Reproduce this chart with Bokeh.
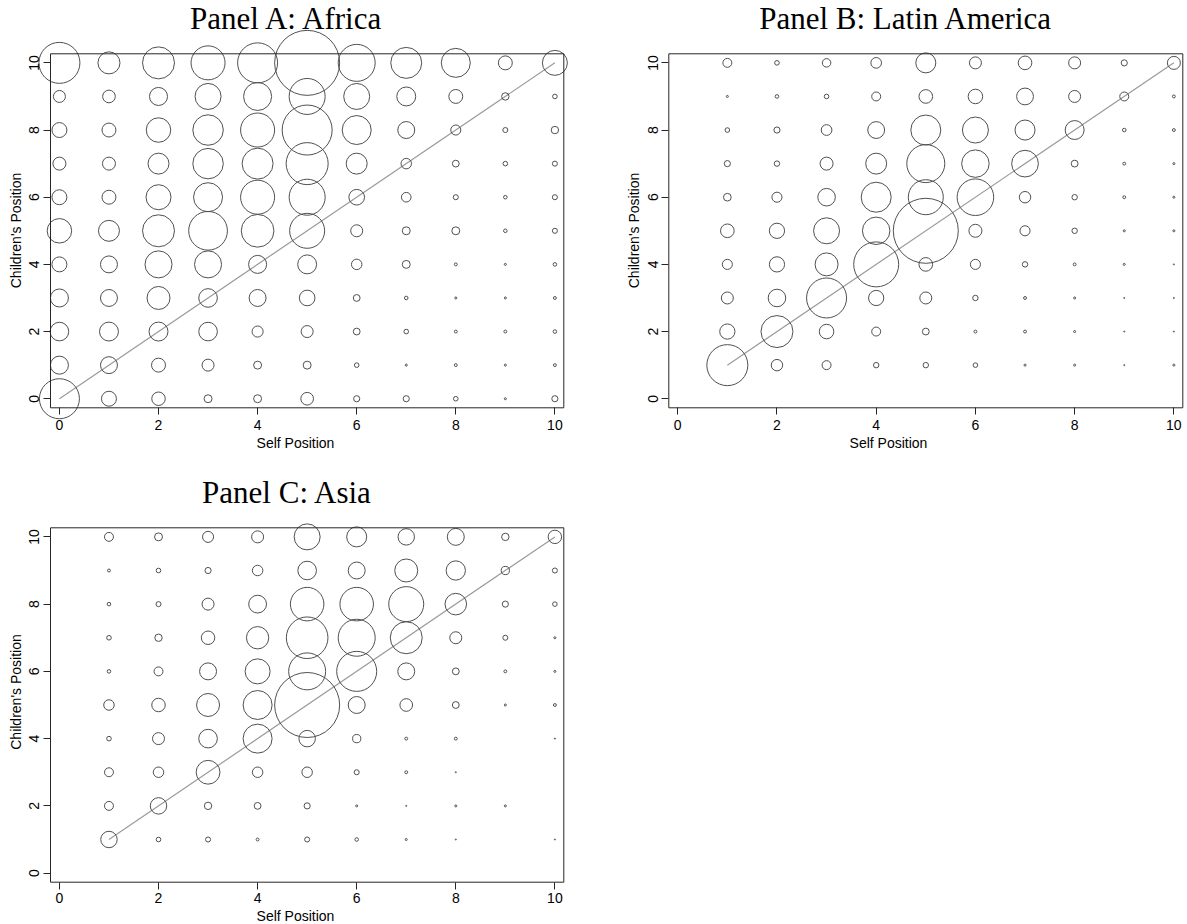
import math
from bokeh.plotting import figure
from bokeh.layouts import row, column
from bokeh.models import FixedTicker, BoxAnnotation, Label
from bokeh.embed import file_html
from bokeh.resources import INLINE

# ---------------- data ----------------
TICKS = [0, 2, 4, 6, 8, 10]

# Panel A: Africa (self position 0..10, children's position 10..0)
SELF_A = [0, 1, 2, 3, 4, 5, 6, 7, 8, 9, 10]
CHILD_A = [10, 9, 8, 7, 6, 5, 4, 3, 2, 1, 0]
AFRICA = [
    [398, 115, 242, 274, 379, 1000, 324, 227, 199, 46, 148],
    [34, 38, 77, 160, 186, 307, 160, 85, 46, 13, 5],
    [53, 46, 142, 220, 274, 592, 199, 68, 24, 6, 13],
    [40, 40, 104, 220, 227, 418, 104, 26, 11, 5, 6],
    [53, 46, 148, 199, 274, 307, 58, 22, 6, 3, 6],
    [142, 104, 242, 355, 253, 290, 34, 15, 15, 3, 6],
    [53, 68, 173, 173, 77, 85, 26, 15, 2, 1, 3],
    [77, 68, 125, 82, 68, 58, 11, 3, 1, 1, 2],
    [82, 85, 85, 82, 29, 34, 11, 5, 2, 2, 3],
    [77, 68, 46, 34, 15, 15, 5, 1, 2, 1, 2],
    [379, 53, 43, 15, 15, 38, 9, 9, 5, 1, 9],
]

# Panel B: Latin America (1..10)
SELF_B = [1, 2, 3, 4, 5, 6, 7, 8, 9, 10]
CHILD_B = [10, 9, 8, 7, 6, 5, 4, 3, 2, 1]
LATIN_AMERICA = [
    [19, 5, 17, 27, 95, 34, 44, 34, 9, 40],
    [1, 3, 5, 19, 44, 50, 67, 34, 19, 2],
    [5, 9, 27, 67, 213, 160, 95, 85, 3, 2],
    [9, 7, 40, 104, 342, 179, 169, 11, 2, 1],
    [14, 24, 73, 213, 290, 317, 31, 7, 2, 1],
    [44, 55, 160, 179, 1000, 40, 24, 7, 1, 1],
    [24, 55, 125, 479, 44, 24, 7, 2, 1, 0.3],
    [34, 73, 379, 55, 34, 7, 2, 1, 0.3, 0.3],
    [55, 242, 50, 19, 11, 2, 2, 1, 0.3, 0.3],
    [398, 31, 19, 7, 7, 5, 1, 1, 0.3, 1],
]

# Panel C: Asia (1..10)
SELF_C = [1, 2, 3, 4, 5, 6, 7, 8, 9, 10]
CHILD_C = [10, 9, 8, 7, 6, 5, 4, 3, 2, 1]
ASIA = [
    [19, 15, 29, 34, 160, 95, 64, 68, 13, 43],
    [2, 5, 9, 26, 82, 68, 125, 88, 16, 6],
    [3, 6, 34, 75, 266, 266, 290, 110, 9, 5],
    [5, 13, 43, 118, 410, 324, 242, 34, 6, 1],
    [3, 19, 68, 148, 324, 379, 68, 11, 2, 1],
    [26, 43, 125, 199, 1000, 68, 38, 11, 1, 2],
    [5, 34, 82, 199, 64, 16, 2, 2, 0, 0.3],
    [19, 26, 134, 26, 26, 6, 2, 0.3, 0, 0],
    [19, 64, 13, 11, 9, 1, 0.3, 1, 1, 0],
    [64, 5, 6, 2, 6, 3, 1, 0.3, 0, 0.3],
]

# ---------------- style ----------------
XLO, XHI = -0.18, 10.18
YLO, YHI = -0.27, 10.27
MAX_DIAM = 65
CIRCLE_COLOR = "#505050"
FRAME_COLOR = "#262626"
DIAG_COLOR = "#9a9a9a"


def panel(title, selfs, childs, weights, fig_w, fig_h, box_px, xlabel_standoff=2, tick_standoff=5):
    bx0, by0, bx1, by1 = box_px  # box in figure pixels
    ux = (bx1 - bx0) / (XHI - XLO)
    uy = (by1 - by0) / (YHI - YLO)
    x_range = (XLO - bx0 / ux, XHI + (fig_w - bx1) / ux)
    y_range = (YLO - (fig_h - by1) / uy, YHI + by0 / uy)

    p = figure(width=fig_w, height=fig_h, x_range=x_range, y_range=y_range,
               output_backend="svg", toolbar_location=None, min_border=0,
               min_border_left=0, min_border_right=0, min_border_top=0, min_border_bottom=0)
    p.outline_line_color = None
    p.grid.visible = False
    p.background_fill_color = "white"
    p.border_fill_color = "white"

    # axes, fixed on the box edges
    p.xaxis.fixed_location = YLO
    p.yaxis.fixed_location = XLO
    p.xaxis.ticker = FixedTicker(ticks=TICKS)
    p.yaxis.ticker = FixedTicker(ticks=TICKS)
    p.xaxis.axis_label = "Self Position"
    p.yaxis.axis_label = "Children's Position"
    for ax in (p.xaxis, p.yaxis):
        ax.axis_line_color = None
        ax.major_tick_out = 7
        ax.major_tick_in = 0
        ax.minor_tick_out = 0
        ax.minor_tick_in = 0
        ax.major_tick_line_color = FRAME_COLOR
        ax.major_label_text_font = "Liberation Sans"
        ax.major_label_text_font_size = "14px"
        ax.major_label_text_color = "black"
        ax.axis_label_text_font = "Liberation Sans"
        ax.axis_label_text_font_size = "14px"
        ax.axis_label_text_font_style = "normal"
        ax.axis_label_text_color = "black"
    p.yaxis.major_label_orientation = "vertical"
    p.yaxis.major_label_standoff = 4
    p.yaxis.axis_label_standoff = 3
    p.xaxis.major_label_standoff = tick_standoff
    p.xaxis.axis_label_standoff = xlabel_standoff

    # box
    p.add_layout(BoxAnnotation(left=XLO, right=XHI, bottom=YLO, top=YHI,
                               fill_color=None, fill_alpha=0,
                               line_color=FRAME_COLOR, line_alpha=1.0, line_width=1))

    # 45-degree line
    lo = min(selfs)
    hi = max(selfs)
    p.line([lo, hi], [lo, hi], line_color=DIAG_COLOR, line_width=1.2)

    # bubbles
    vmax = max(max(r) for r in weights)
    xs, ys, sz = [], [], []
    for j, c in enumerate(childs):
        for i, s in enumerate(selfs):
            w = weights[j][i]
            if w > 0:
                xs.append(s)
                ys.append(c)
                sz.append(MAX_DIAM * math.sqrt(w / vmax))
    p.scatter(xs, ys, size=sz, marker="circle", fill_color=None,
              line_color=CIRCLE_COLOR, line_width=1)

    p.add_layout(Label(x=4.6, y=YHI + 1.04, text=title, text_align="center",
                       text_baseline="alphabetic", text_font="Liberation Serif",
                       text_font_size="31px", text_color="black"))
    return p


# page geometry (page has no margin): A at (0,0), B at (590,0), C at (0,460)
pA = panel("Panel A: Africa", SELF_A, CHILD_A, AFRICA, 590, 460,
           (50, 53.3, 563.3, 407.3))
pB = panel("Panel B: Latin America", SELF_B, CHILD_B, LATIN_AMERICA, 596, 460,
           (668.3 - 590, 53.3, 1182.3 - 590, 407.3))
pC = panel("Panel C: Asia", SELF_C, CHILD_C, ASIA, 590, 463,
           (50, 527.3 - 460, 563.3, 881.7 - 460), xlabel_standoff=1, tick_standoff=4)

layout = column(row(pA, pB), pC)
open("out.html", "w").write(file_html(layout, INLINE))
